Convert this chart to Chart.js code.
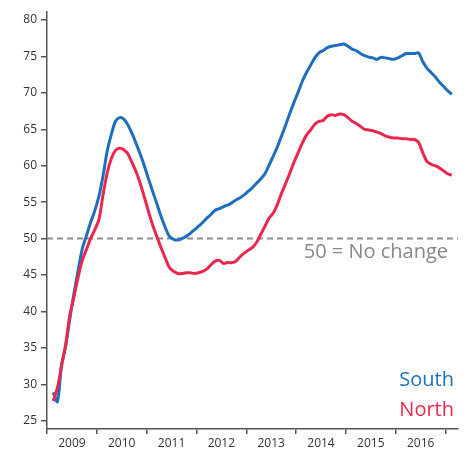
<!DOCTYPE html>
<html>
<head>
<meta charset="UTF-8">
<script src="https://cdn.jsdelivr.net/npm/chart.js"></script>
<style>
  html, body { margin: 0; padding: 0; background: #fff; }
  #wrap { width: 467px; height: 451px; }
</style>
</head>
<body>
<div id="wrap"><canvas id="grafico"></canvas></div>
<script>
// monthly readings, Feb 2009 .. Feb 2017
const primeiroAno = 2009;
const primeiroMes = 2; // February
const south = [28.9, 27.6, 32.6, 35.2, 39.0, 42.5, 45.6, 48.6, 50.4, 52.2, 53.8, 55.8,
  58.6, 62.0, 64.3, 66.1, 66.6, 66.4, 65.6, 64.4, 63.0, 61.5, 59.9, 58.1,
  56.4, 54.7, 53.0, 51.5, 50.3, 49.9, 49.8, 50.0, 50.3, 50.7, 51.2, 51.7,
  52.2, 52.8, 53.3, 53.9, 54.1, 54.4, 54.6, 54.9, 55.3, 55.6, 56.0, 56.5,
  57.0, 57.6, 58.2, 58.9, 60.1, 61.3, 62.6, 64.1, 65.6, 67.2, 68.7, 70.1,
  71.6, 72.8, 73.8, 74.8, 75.5, 75.8, 76.2, 76.4, 76.5, 76.6, 76.7, 76.4,
  76.0, 75.8, 75.4, 75.1, 74.9, 74.8, 74.6, 74.9, 74.8, 74.7, 74.6, 74.8,
  75.1, 75.4, 75.4, 75.4, 75.5, 74.3, 73.4, 72.8, 72.2, 71.5, 70.9, 70.3,
  69.8];
const north = [27.7, 29.5, 32.5, 35.5, 39.5, 42.0, 44.7, 47.0, 48.5, 50.0, 51.2, 52.6,
  56.0, 59.0, 61.0, 62.1, 62.4, 62.2, 61.6, 60.4, 59.1, 57.5, 55.6, 53.6,
  51.8, 50.2, 48.7, 47.3, 46.0, 45.5, 45.2, 45.2, 45.3, 45.3, 45.2, 45.3,
  45.5, 45.8, 46.4, 46.9, 47.0, 46.6, 46.7, 46.7, 46.9, 47.5, 48.0, 48.4,
  48.8, 49.5, 50.6, 51.7, 52.8, 53.5, 54.7, 56.2, 57.6, 59.0, 60.5, 61.8,
  63.1, 64.2, 64.9, 65.7, 66.1, 66.2, 66.8, 67.0, 66.9, 67.1, 67.0, 66.6,
  66.1, 65.8, 65.4, 65.0, 64.9, 64.8, 64.6, 64.4, 64.1, 63.9, 63.8, 63.8,
  63.7, 63.7, 63.6, 63.6, 63.2, 61.8, 60.6, 60.2, 60.0, 59.7, 59.3, 58.9,
  58.7];
const anos = [2009, 2010, 2011, 2012, 2013, 2014, 2015, 2016];
const ticksY = [25, 30, 35, 40, 45, 50, 55, 60, 65, 70, 75, 80];
const linhaNeutra = 50;

const azul = '#1d6fbd';
const vermelho = '#e9284d';
const fonte = "'Open Sans', sans-serif";

// x value = year + mid-month fraction
function pontos(serie) {
    let lista = [];
    for (let i = 0; i < serie.length; i++) {
        lista.push({ x: primeiroAno + (primeiroMes - 1 + i + 0.5) / 12, y: serie[i] });
    }
    return lista;
}

const xMin = anos[0];
const xMax = anos[anos.length - 1] + 1.25;

// ticks at year boundaries (marks) and mid-year (labels)
let ticksX = [];
for (let a = anos[0]; a <= anos[anos.length - 1] + 1; a++) {
    ticksX.push({ value: a });
    if (a <= anos[anos.length - 1]) ticksX.push({ value: a + 0.5 });
}

// labels drawn inside the plot
const textos = {
    id: 'textos',
    afterDatasetsDraw(chart) {
        const ctx = chart.ctx;
        const area = chart.chartArea;
        const y = chart.scales.y;
        ctx.save();
        ctx.textAlign = 'right';
        ctx.textBaseline = 'middle';
        ctx.font = '20px ' + fonte;
        ctx.fillStyle = '#888888';
        ctx.fillText('50 = No change', area.right - 10, y.getPixelForValue(linhaNeutra) + 14);
        ctx.fillStyle = azul;
        ctx.fillText('South', area.right - 4, y.getPixelForValue(30.6));
        ctx.fillStyle = vermelho;
        ctx.fillText('North', area.right - 4, y.getPixelForValue(26.4));
        ctx.restore();
    }
};

new Chart(document.getElementById('grafico'), {
    type: 'line',
    data: {
        datasets: [
            {
                label: 'North',
                data: pontos(north),
                borderColor: vermelho,
                borderWidth: 3,
                pointRadius: 0,
                tension: 0.3
            },
            {
                label: 'South',
                data: pontos(south),
                borderColor: azul,
                borderWidth: 3,
                pointRadius: 0,
                tension: 0.3
            },
            {
                label: '50',
                data: [{ x: xMin, y: linhaNeutra }, { x: xMax, y: linhaNeutra }],
                borderColor: '#8c8c8c',
                borderWidth: 2,
                borderDash: [6, 4],
                pointRadius: 0,
                order: 5
            }
        ]
    },
    options: {
        responsive: true,
        maintainAspectRatio: false,
        animation: false,
        layout: { padding: { top: 12, right: 9, left: 0, bottom: 0 } },
        plugins: {
            legend: { display: false },
            tooltip: { enabled: false }
        },
        scales: {
            x: {
                type: 'linear',
                min: xMin,
                max: xMax,
                afterBuildTicks: (s) => { s.ticks = ticksX.map(t => ({ value: t.value })); },
                afterFit: (s) => { s.height = 22; },
                border: { color: '#555555', width: 1.5 },
                grid: {
                    drawOnChartArea: false,
                    drawTicks: true,
                    tickLength: 5,
                    lineWidth: 1.5,
                    color: (c) => (c.tick && Number.isInteger(c.tick.value)) ? '#555555' : 'rgba(0,0,0,0)'
                },
                ticks: {
                    autoSkip: false,
                    maxRotation: 0,
                    padding: 2,
                    color: '#333333',
                    font: { family: fonte, size: 12 },
                    callback: (v) => Number.isInteger(v) ? '' : String(Math.floor(v))
                }
            },
            y: {
                min: 23.86,
                max: 81.1,
                afterBuildTicks: (s) => { s.ticks = ticksY.map(v => ({ value: v })); },
                afterFit: (s) => { s.width = 47; },
                border: { color: '#555555', width: 1.5 },
                grid: {
                    drawOnChartArea: false,
                    drawTicks: true,
                    tickLength: 6,
                    lineWidth: 1.5,
                    color: '#555555'
                },
                ticks: {
                    padding: 4,
                    color: '#333333',
                    font: { family: fonte, size: 12 }
                }
            }
        }
    },
    plugins: [textos]
});
</script>
</body>
</html>
